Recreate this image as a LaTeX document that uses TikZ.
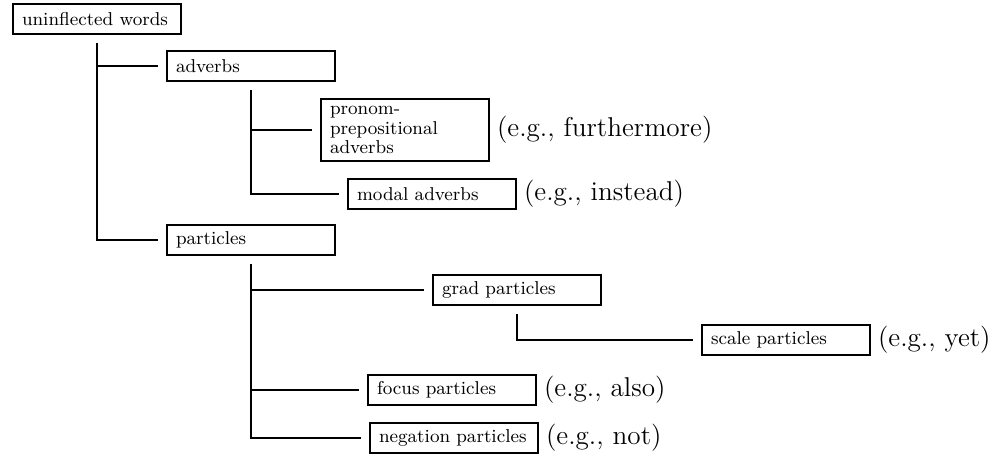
\documentclass[tikz,border=0pt]{standalone}
\usepackage{tikz}
\usetikzlibrary{positioning, calc, shadows}

\begin{document}
\begin{tikzpicture}[
  x=0.5pt, y=-0.5pt,
  wordbox/.style={rectangle, draw=black, line width=1pt, fill=white, anchor=west,
    text width=75pt, inner xsep=4.5pt, minimum height=15pt, align=left,
    font=\fontsize{9.3}{9.8}\selectfont,
    drop shadow={shadow xshift=0.6pt, shadow yshift=-0.5pt, fill=black, opacity=1}},
  eg/.style={right=0pt of #1, font=\fontsize{13.6}{16}\selectfont},
  branch/.style={line width=0.9pt},
]
  \useasboundingbox (0,0) rectangle (992,456);

  % Root
  \node[wordbox] (uw) at (12, 19) {uninflected words};

  % Adverbs
  \node[wordbox] (adv) at (166, 66) {adverbs};
  \node[wordbox] (pp) at (320, 130) {pronom-\\prepositional\\adverbs};
  \node[wordbox] (modal) at (347, 194) {modal adverbs};

  % Particles
  \node[wordbox] (part) at (166, 240) {particles};
  \node[wordbox] (grad) at (432, 290) {grad particles};
  \node[wordbox] (scale) at (701, 340) {scale particles};
  \node[wordbox] (focus) at (367, 390) {focus particles};
  \node[wordbox] (neg) at (369, 438) {negation particles};

  % Examples
  \node[eg=pp] (egpp) {(e.g., furthermore)};
  \node[eg=modal] (egmodal) {(e.g., instead)};
  \node[eg=scale] (egscale) {(e.g., yet)};
  \node[eg=focus] (egfocus) {(e.g., also)};
  \node[eg=neg] (egneg) {(e.g., not)};

  % Branches
  \draw[branch] ([yshift=-4pt]uw.south) |- ([xshift=-4pt]adv.west);
  \draw[branch] ([yshift=-4pt]uw.south) |- ([xshift=-4pt]part.west);
  \draw[branch] ([yshift=-4pt]adv.south) |- ([xshift=-4pt]pp.west);
  \draw[branch] ([yshift=-4pt]adv.south) |- ([xshift=-4pt]modal.west);
  \draw[branch] ([yshift=-4pt]part.south) |- ([xshift=-4pt]grad.west);
  \draw[branch] ([yshift=-4pt]part.south) |- ([xshift=-4pt]focus.west);
  \draw[branch] ([yshift=-4pt]part.south) |- ([xshift=-4pt]neg.west);
  \draw[branch] ([yshift=-4pt]grad.south) |- ([xshift=-4pt]scale.west);

\end{tikzpicture}
\end{document}
